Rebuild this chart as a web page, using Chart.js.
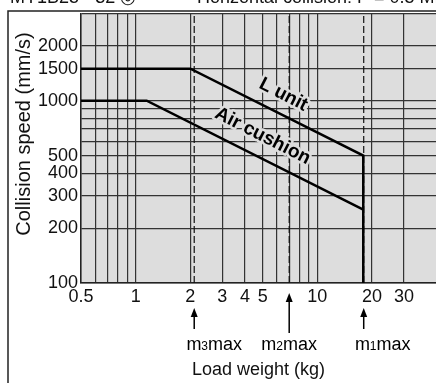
<!DOCTYPE html>
<html>
<head>
<meta charset="utf-8">
<script src="https://cdn.jsdelivr.net/npm/chart.js@4"></script>
<style>
  body { margin: 0; background: #fff; overflow: hidden; }
  #chart { display: block; }
</style>
</head>
<body>
<canvas id="chart" width="436" height="383"></canvas>
<script>
// curves (load kg -> speed mm/s)
const lUnitX = [0.5, 2.0, 17.9, 17.9];
const lUnitY = [1500, 1500, 500, 100];
const airX = [0.5, 1.15, 17.9];
const airY = [1000, 1000, 253];

// allowable max load marks
const maxLoads = [2.1, 7.0, 18];
const maxSubs = ['3', '2', '1'];

const xGrid = [0.5, 0.6, 0.7, 0.8, 0.9, 1, 2, 3, 4, 5, 6, 7, 8, 9, 10, 20, 30];
const xLabels = [0.5, 1, 2, 3, 4, 5, 10, 20, 30];
const yGrid = [100, 200, 300, 400, 500, 600, 700, 800, 900, 1000, 1500, 2000, 3000];
const yLabels = [100, 200, 300, 400, 500, 1000, 1500, 2000];

const FONT = 'Liberation Sans, Arial, sans-serif';
const toPts = (xs, ys) => xs.map((x, i) => ({ x: x, y: ys[i] }));

const decor = {
  id: 'decor',
  beforeDraw(chart) {
    const { ctx, chartArea: a } = chart;
    ctx.save();
    ctx.fillStyle = '#dddddd';
    ctx.fillRect(a.left, a.top, a.right - a.left, a.bottom - a.top);
    ctx.restore();
  },
  afterDraw(chart) {
    const { ctx, scales: { x, y } } = chart;
    ctx.save();
    // outer frame
    ctx.strokeStyle = '#222';
    ctx.lineWidth = 1.5;
    ctx.beginPath();
    ctx.moveTo(8, 383);
    ctx.lineTo(8, 11);
    ctx.lineTo(436, 11);
    ctx.stroke();

    // heading, mostly cut off at the top
    ctx.fillStyle = '#111';
    ctx.font = '18px ' + FONT;
    ctx.textBaseline = 'alphabetic';
    ctx.textAlign = 'left';
    ctx.fillText('MY1B25 • 32 ◎', 10, 3);
    ctx.fillText('Horizontal collision: P = 0.5 MPa', 197, 3);

    // y axis title
    ctx.save();
    ctx.translate(24, 134);
    ctx.rotate(-Math.PI / 2);
    ctx.font = '20px ' + FONT;
    ctx.textAlign = 'center';
    ctx.textBaseline = 'middle';
    ctx.fillText('Collision speed (mm/s)', 0, 0);
    ctx.restore();

    // curve labels
    const label = (txt, xv, yv) => {
      ctx.save();
      ctx.translate(x.getPixelForValue(xv), y.getPixelForValue(yv));
      ctx.rotate(27 * Math.PI / 180);
      ctx.font = 'bold 19px ' + FONT;
      ctx.textAlign = 'center';
      ctx.textBaseline = 'middle';
      ctx.lineJoin = 'round';
      ctx.strokeStyle = '#dddddd';
      ctx.lineWidth = 5;
      ctx.strokeText(txt, 0, 0);
      ctx.fillStyle = '#000';
      ctx.fillText(txt, 0, 0);
      ctx.restore();
    };
    label('L unit', 6.5, 1080);
    label('Air cushion', 5.0, 640);

    // arrows + m max labels
    maxLoads.forEach((m, i) => {
      const px = x.getPixelForValue(m);
      const top = i === 1 ? 293 : 308;
      const bot = i === 1 ? 333 : 329;
      ctx.strokeStyle = '#000';
      ctx.lineWidth = 1.5;
      ctx.beginPath();
      ctx.moveTo(px, top + 6);
      ctx.lineTo(px, bot);
      ctx.stroke();
      ctx.fillStyle = '#000';
      ctx.beginPath();
      ctx.moveTo(px, top);
      ctx.lineTo(px - 3.5, top + 9);
      ctx.lineTo(px + 3.5, top + 9);
      ctx.closePath();
      ctx.fill();

      const big = '18px ' + FONT, small = '12px ' + FONT;
      ctx.font = big;
      const wm = ctx.measureText('m').width;
      const wx = ctx.measureText('max').width;
      ctx.font = small;
      const ws = ctx.measureText(maxSubs[i]).width;
      const total = wm + ws + wx;
      const cx = i === 0 ? px + 20 : (i === 2 ? px + 19 : px);
      let sx = cx - total / 2;
      const by = 350;
      ctx.textAlign = 'left';
      ctx.textBaseline = 'alphabetic';
      ctx.font = big;
      ctx.fillText('m', sx, by);
      sx += wm;
      ctx.font = small;
      ctx.fillText(maxSubs[i], sx, by);
      sx += ws;
      ctx.font = big;
      ctx.fillText('max', sx, by);
    });
    ctx.restore();
  }
};

const dashed = maxLoads.map(m => ({
  data: [{ x: m, y: 100 }, { x: m, y: 3000 }],
  borderColor: '#111',
  borderWidth: 1.2,
  borderDash: [7, 3],
  pointRadius: 0,
  showLine: true
}));

new Chart(document.getElementById('chart'), {
  type: 'scatter',
  data: {
    datasets: [
      { label: 'L unit', data: toPts(lUnitX, lUnitY), borderColor: '#000', borderWidth: 2.5, pointRadius: 0, showLine: true },
      { label: 'Air cushion', data: toPts(airX, airY), borderColor: '#000', borderWidth: 2.5, pointRadius: 0, showLine: true }
    ].concat(dashed)
  },
  options: {
    responsive: false,
    animation: false,
    devicePixelRatio: 1,
    layout: { padding: { top: 12, right: 0, left: 0, bottom: 0 } },
    plugins: { legend: { display: false }, tooltip: { enabled: false } },
    scales: {
      x: {
        type: 'logarithmic',
        min: 0.5,
        max: 45,
        afterBuildTicks: s => { s.ticks = xGrid.map(v => ({ value: v })); },
        afterFit: s => { s.height = 100; },
        ticks: {
          autoSkip: false,
          maxRotation: 0,
          padding: 3,
          color: '#111',
          font: { family: FONT, size: 18 },
          callback: v => xLabels.includes(v) ? String(v) : ''
        },
        grid: { color: '#333', lineWidth: 1.2, drawTicks: false },
        border: { display: true, color: '#222', width: 1.5 },
        title: {
          display: true,
          text: 'Load weight (kg)',
          color: '#111',
          font: { family: FONT, size: 18 },
          padding: { top: 0, bottom: 2 }
        }
      },
      y: {
        type: 'logarithmic',
        min: 100,
        max: 3000,
        afterBuildTicks: s => { s.ticks = yGrid.map(v => ({ value: v })); },
        afterFit: s => { s.width = 81; },
        ticks: {
          autoSkip: false,
          padding: 3,
          color: '#111',
          font: { family: FONT, size: 18 },
          callback: v => yLabels.includes(v) ? String(v) : ''
        },
        grid: { color: '#333', lineWidth: 1.2, drawTicks: false },
        border: { display: true, color: '#222', width: 1.5 }
      }
    }
  },
  plugins: [decor]
});
</script>
</body>
</html>
